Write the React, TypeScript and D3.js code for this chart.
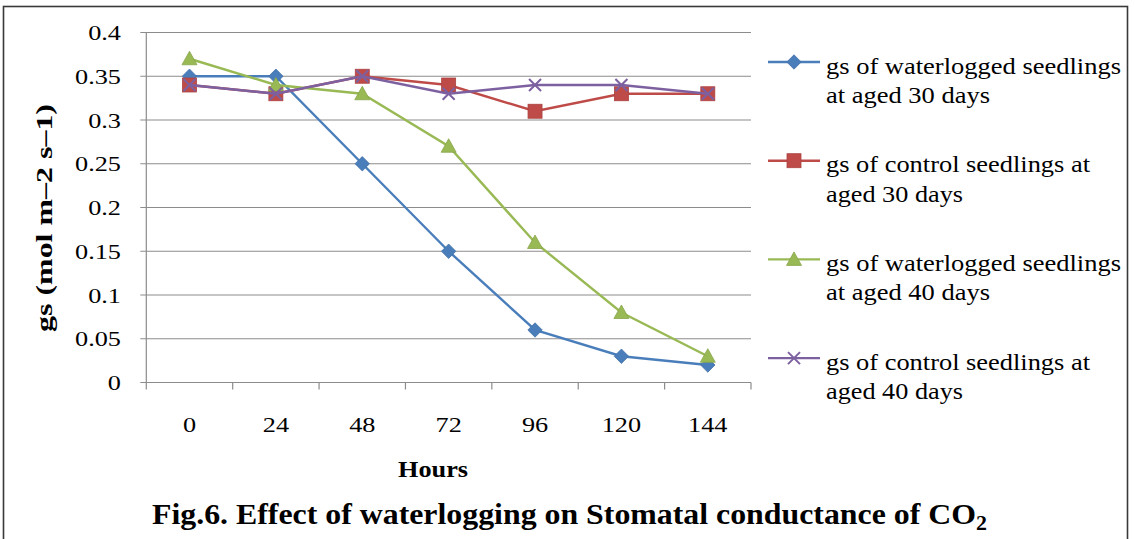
import React from "react";
import * as d3 from "d3";

const categories = ["0", "24", "48", "72", "96", "120", "144"];
const waterlogged30 = [0.35, 0.35, 0.25, 0.15, 0.06, 0.03, 0.02];
const control30 = [0.34, 0.33, 0.35, 0.34, 0.31, 0.33, 0.33];
const waterlogged40 = [0.37, 0.34, 0.33, 0.27, 0.16, 0.08, 0.03];
const control40 = [0.34, 0.33, 0.35, 0.33, 0.34, 0.34, 0.33];
const yTicks = [0, 0.05, 0.1, 0.15, 0.2, 0.25, 0.3, 0.35, 0.4];
const yTickLabels = ["0", "0.05", "0.1", "0.15", "0.2", "0.25", "0.3", "0.35", "0.4"];
const seriesNames = [
  ["gs of waterlogged seedlings", "at aged 30 days"],
  ["gs of control seedlings at", "aged 30 days"],
  ["gs of waterlogged seedlings", "at aged 40 days"],
  ["gs of control seedlings at", "aged 40 days"],
];

const W = 1135;
const H = 539;
const FONT = "'Liberation Serif', 'Times New Roman', serif";
const SX = 1.25;

const series = [
  { values: waterlogged30, color: "#4A7EBB", marker: "diamond", names: seriesNames[0], widths: [295, 164] },
  { values: control30, color: "#BE4B48", marker: "square", names: seriesNames[1], widths: [264, 137] },
  { values: waterlogged40, color: "#98B954", marker: "triangle", names: seriesNames[2], widths: [295, 164] },
  { values: control40, color: "#7D60A0", marker: "x", names: seriesNames[3], widths: [264, 137] },
];

function Marker({ type, x, y, color }: { type: string; x: number; y: number; color: string }) {
  if (type === "diamond") {
    const s = 7.2;
    return <path d={`M${x},${y - s}L${x + s},${y}L${x},${y + s}L${x - s},${y}Z`} fill={color} stroke={d3.color(color)!.darker(0.3).toString()} strokeWidth={0.8} />;
  }
  if (type === "square") {
    const s = 7;
    return <rect x={x - s} y={y - s} width={2 * s} height={2 * s} fill={color} stroke={d3.color(color)!.darker(0.3).toString()} strokeWidth={0.8} />;
  }
  if (type === "triangle") {
    const s = 7.5;
    return <path d={`M${x},${y - s}L${x + s},${y + s * 0.8}L${x - s},${y + s * 0.8}Z`} fill={color} stroke={d3.color(color)!.darker(0.3).toString()} strokeWidth={0.8} />;
  }
  const s = 6;
  return <path d={`M${x - s},${y - s}L${x + s},${y + s}M${x + s},${y - s}L${x - s},${y + s}`} stroke={color} strokeWidth={2} fill="none" />;
}

function Txt({ x, y, children, anchor = "start", size = 21, weight = "normal", sx = SX, rotate = 0, length }: any) {
  return (
    <text
      transform={`translate(${x},${y})${rotate ? ` rotate(${rotate})` : ""} scale(${sx},1)`}
      textAnchor={anchor}
      fontFamily={FONT}
      fontSize={size}
      fontWeight={weight}
      fill="#000"
      textLength={length}
      lengthAdjust={length ? "spacingAndGlyphs" : undefined}
    >
      {children}
    </text>
  );
}

export default function App() {
  const left = 146.3;
  const right = 751;
  const top = 32.5;
  const bottom = 382.5;
  const x = d3.scaleBand<string>().domain(categories).range([left, right]).padding(0);
  const y = d3.scaleLinear().domain([0, 0.4]).range([bottom, top]);
  const cx = (c: string) => x(c)! + x.bandwidth() / 2;
  const line = d3
    .line<number>()
    .x((_, i) => cx(categories[i]))
    .y((d) => y(d));

  const boundaries = [...categories.map((c) => x(c)!), right];

  return (
    <svg width={W} height={H} style={{ position: "absolute", left: 0, top: 0, background: "#fff" }}>
      <rect x={0} y={0} width={W} height={H} fill="#fff" />
      <rect x={3.5} y={6.5} width={1124} height={545} fill="none" stroke="#3a3a3a" strokeWidth={1.6} />

      {/* gridlines */}
      {yTicks.map((t) => (
        <line key={t} x1={left - 6} x2={right} y1={y(t)} y2={y(t)} stroke="#8c8c8c" strokeWidth={1.2} />
      ))}
      {/* y axis */}
      <line x1={left} x2={left} y1={top} y2={bottom + 7} stroke="#8c8c8c" strokeWidth={1.2} />
      {/* x ticks */}
      {boundaries.slice(1).map((b, i) => (
        <line key={i} x1={b} x2={b} y1={bottom} y2={bottom + 7} stroke="#8c8c8c" strokeWidth={1.2} />
      ))}

      {/* y tick labels */}
      {yTicks.map((t, i) => (
        <Txt key={t} x={121} y={y(t) + 7.5} anchor="end">
          {yTickLabels[i]}
        </Txt>
      ))}
      {/* x tick labels */}
      {categories.map((c) => (
        <Txt key={c} x={cx(c)} y={432} anchor="middle">
          {c}
        </Txt>
      ))}

      {/* series */}
      {series.map((s, si) => (
        <g key={si}>
          <path d={line(s.values)!} fill="none" stroke={s.color} strokeWidth={2.4} />
          {s.values.map((v, i) => (
            <Marker key={i} type={s.marker} x={cx(categories[i])} y={y(v)} color={s.color} />
          ))}
        </g>
      ))}

      {/* legend */}
      {series.map((s, si) => {
        const my = 62 + si * 98.7;
        return (
          <g key={si}>
            <line x1={768} x2={820} y1={my} y2={my} stroke={s.color} strokeWidth={2.4} />
            <Marker type={s.marker} x={794} y={my} color={s.color} />
            <Txt x={826} y={my + 11.5} sx={1} size={23} length={s.widths[0]}>
              {s.names[0]}
            </Txt>
            <Txt x={826} y={my + 41} sx={1} size={23} length={s.widths[1]}>
              {s.names[1]}
            </Txt>
          </g>
        );
      })}

      {/* axis titles */}
      <Txt x={433} y={477} anchor="middle" weight="bold" size={24} sx={1} length={70}>
        Hours
      </Txt>
      <Txt x={52} y={218} anchor="middle" weight="bold" size={23} sx={1} rotate={-90} length={228}>
        gs (mol m–2 s–1)
      </Txt>

      {/* caption */}
      <text x={152} y={524} fontFamily={FONT} fontSize={29} fontWeight="bold" fill="#000" textLength={835} lengthAdjust="spacingAndGlyphs">
        Fig.6. Effect of waterlogging on Stomatal conductance of CO
        <tspan dy={6} fontSize={20}>2</tspan>
      </text>
    </svg>
  );
}
